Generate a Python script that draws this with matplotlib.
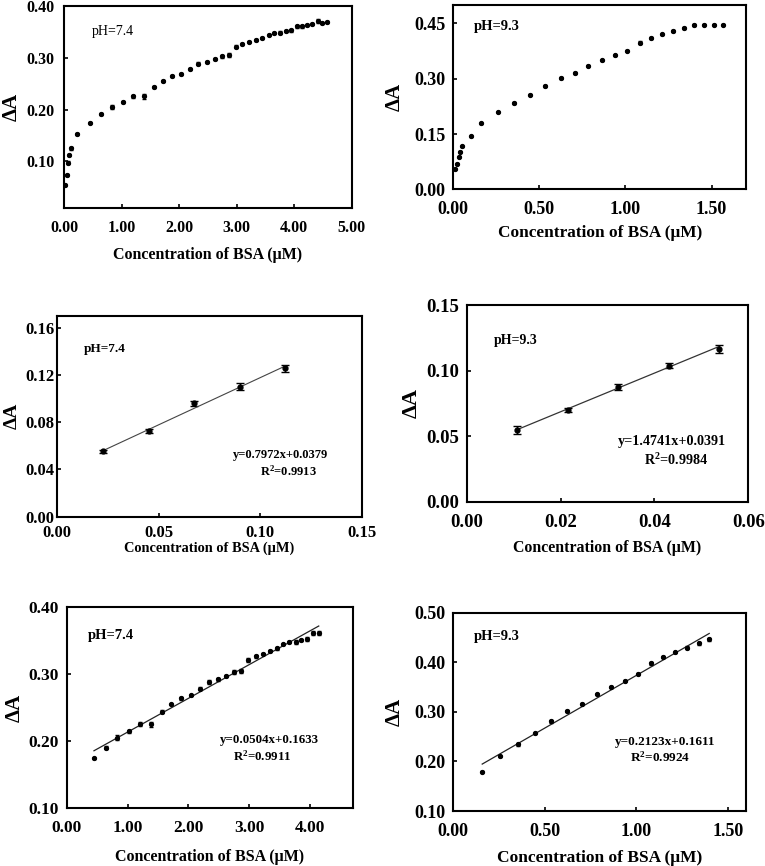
import matplotlib
matplotlib.use("Agg")
import matplotlib.pyplot as plt
import numpy as np

plt.rcParams['font.family'] = ['Liberation Serif', 'DejaVu Serif']
plt.rcParams['font.weight'] = 'bold'
plt.rcParams['mathtext.fontset'] = 'custom'
plt.rcParams['mathtext.rm'] = 'Liberation Serif:bold'
plt.rcParams['mathtext.it'] = 'Liberation Serif:bold'
plt.rcParams['mathtext.bf'] = 'Liberation Serif:bold'

# ---------------- data ----------------
# pH 7.4 full titration curve
x74 = [0.023, 0.046, 0.075, 0.093, 0.116, 0.22,
       0.448, 0.645, 0.831, 1.022, 1.208, 1.388, 1.563, 1.721, 1.885, 2.038,
       2.191, 2.339, 2.486, 2.623, 2.743, 2.863, 2.984, 3.104, 3.224, 3.339,
       3.448, 3.557, 3.656, 3.760, 3.858, 3.956, 4.044, 4.142,
       4.23, 4.32, 4.41, 4.49, 4.58]
y74 = [0.055, 0.073, 0.097, 0.112, 0.125, 0.152,
       0.1746, 0.1906, 0.2055, 0.215, 0.2254, 0.2254, 0.2443, 0.2552, 0.2642, 0.2687,
       0.2786, 0.2886, 0.2925, 0.2975, 0.303, 0.3055, 0.321, 0.327, 0.331, 0.335,
       0.339, 0.3448, 0.348, 0.348, 0.351, 0.353, 0.361, 0.361,
       0.363, 0.366, 0.371, 0.368, 0.369]
e74 = [0.002, 0.002, 0.003, 0.002, 0.003, 0.002,
       0.001, 0.002, 0.004, 0.002, 0.003, 0.004, 0.002, 0.001, 0.002, 0.001,
       0.002, 0.003, 0.002, 0.002, 0.003, 0.003, 0.003, 0.002, 0.001, 0.002,
       0.002, 0.001, 0.002, 0.003, 0.002, 0.003, 0.003, 0.003,
       0.002, 0.002, 0.004, 0.002, 0.002]

# pH 9.3 full titration curve
x93 = [0.008, 0.019, 0.031, 0.041, 0.052, 0.101,
       0.158, 0.257, 0.353, 0.446, 0.534, 0.623, 0.705, 0.784, 0.861, 0.937,
       1.007, 1.082, 1.149, 1.212, 1.277, 1.341, 1.399,
       1.455, 1.512, 1.568]
y93 = [0.055, 0.069, 0.088, 0.102, 0.117, 0.144,
       0.179, 0.210, 0.235, 0.257, 0.281, 0.302, 0.316, 0.335, 0.350, 0.363,
       0.376, 0.398, 0.410, 0.420, 0.429, 0.438, 0.446,
       0.447, 0.447, 0.447]
e93 = [0.001, 0.001, 0.001, 0.001, 0.001, 0.001,
       0.001, 0.001, 0.003, 0.001, 0.003, 0.002, 0.002, 0.001, 0.002, 0.001,
       0.002, 0.003, 0.002, 0.001, 0.003, 0.003, 0.003,
       0.001, 0.001, 0.001]

# low-concentration linear ranges
xlow74 = [0.0226, 0.0453, 0.0674, 0.0898, 0.1122]
ylow74 = [0.0554, 0.0722, 0.0960, 0.1100, 0.1256]
elow74 = [0.0012, 0.0018, 0.0022, 0.0030, 0.0030]

xlow93 = [0.01075, 0.0216, 0.0322, 0.0431, 0.0537]
ylow93 = [0.0549, 0.0702, 0.0875, 0.1037, 0.1167]
elow93 = [0.0030, 0.0015, 0.0025, 0.0020, 0.0030]

# regression equations (slope, intercept, R2)
fit_low74 = (0.7972, 0.0379, 0.9913)
fit_low93 = (1.4741, 0.0391, 0.9984)
fit_hi74 = (0.0504, 0.1633, 0.9911)
fit_hi93 = (0.2123, 0.1611, 0.9924)

# index range of the high linear ranges within the full curves
hi74 = slice(6, 34)
hi93 = slice(6, 23)

# ---------------- figure ----------------
W, H = 765, 866
fig = plt.figure(figsize=(W / 100, H / 100), dpi=100)


def add_ax(l, r, t, b):
    ax = fig.add_axes([l / W, 1 - b / H, (r - l) / W, (b - t) / H])
    ax._px = (l, r, t, b)
    return ax


def style(ax, xlim, ylim, xt, yt, tsize, lsize, xlab_y, ylab_x,
          xpad=8.5, ypad=5.5, ysize=15):
    l, r, t, b = ax._px
    ax.set_xlim(*xlim)
    ax.set_ylim(*ylim)
    ax.set_xticks(xt)
    ax.set_yticks(yt)
    ax.xaxis.set_major_formatter(matplotlib.ticker.FormatStrFormatter('%.2f'))
    ax.yaxis.set_major_formatter(matplotlib.ticker.FormatStrFormatter('%.2f'))
    ax.tick_params(direction='in', length=3, width=1.2, labelsize=tsize,
                   top=False, right=False)
    ax.tick_params(axis='x', pad=xpad)
    ax.tick_params(axis='y', pad=ypad)
    for lab in ax.get_xticklabels() + ax.get_yticklabels():
        lab.set_fontweight('bold')
    for s in ax.spines.values():
        s.set_linewidth(1.5)
    ax.set_xlabel('Concentration of BSA (\u03bcM)', fontsize=lsize,
                  fontweight='bold')
    ax.set_ylabel('\u0394A', fontsize=ysize, fontweight='bold')
    ax.xaxis.label.set_va('center')
    ax.yaxis.label.set_va('center')
    ax.yaxis.label.set_rotation_mode('default')
    ax.xaxis.set_label_coords(0.5, (b - xlab_y) / (b - t))
    ax.yaxis.set_label_coords((ylab_x - l) / (r - l), 0.5)


def r2txt(v):
    return 'R$^{2}$' + f'={v:.4f}'


# Panel 1: pH 7.4 full
ax1 = add_ax(64, 351.5, 6, 208)
ax1.errorbar(x74, y74, yerr=e74, fmt='o', ms=2.8, color='black',
             elinewidth=0.8, capsize=1.2)
style(ax1, (0, 5.0), (0.01, 0.40), [0, 1, 2, 3, 4, 5],
      [0.10, 0.20, 0.30, 0.40], 11.5, 11.5, 255, 12, ypad=7)
ax1.text(0.49, 0.35, 'pH=7.4', fontsize=10, fontweight='normal', va='center')

# Panel 2: pH 9.3 full
ax2 = add_ax(453.3, 746, 5, 189.3)
ax2.errorbar(x93, y93, yerr=e93, fmt='o', ms=2.8, color='black',
             elinewidth=0.8, capsize=1.2)
style(ax2, (0, 1.70), (0, 0.50), [0, 0.5, 1.0, 1.5],
      [0, 0.15, 0.30, 0.45], 13, 12.4, 233, 395)
ax2.text(0.122, 0.443, 'pH=9.3', fontsize=10.5, fontweight='bold', va='center')

# Panel 3: pH 7.4 low range
ax3 = add_ax(57.3, 361.7, 315.7, 516.7)
ax3.errorbar(xlow74, ylow74, yerr=elow74, fmt='o', ms=3.5, color='black',
             elinewidth=1.0, capsize=3)
s, b, r2 = fit_low74
xf = np.array([xlow74[0], xlow74[-1]])
ax3.plot(xf, s * xf + b, color='#444444', lw=0.8)
style(ax3, (0, 0.15), (0, 0.17), [0, 0.05, 0.10, 0.15],
      [0, 0.04, 0.08, 0.12, 0.16], 12, 10.4, 548, 12, xpad=6, ypad=2,
      ysize=14)
ax3.text(0.0129, 0.1415, 'pH=7.4', fontsize=9.5, fontweight='bold', va='center')
ax3.text(0.0864, 0.0526, f'y={s:.4f}x+{b:.4f}', fontsize=9,
         fontweight='bold', va='center')
ax3.text(0.0997, 0.0384, r2txt(r2), fontsize=9,
         fontweight='bold', va='center')

# Panel 4: pH 9.3 low range
ax4 = add_ax(466.7, 748.3, 305, 501.7)
ax4.errorbar(xlow93, ylow93, yerr=elow93, fmt='o', ms=3.5, color='black',
             elinewidth=1.0, capsize=3)
s, b, r2 = fit_low93
xf = np.array([xlow93[0], xlow93[-1]])
ax4.plot(xf, s * xf + b, color='#333333', lw=0.9)
style(ax4, (0, 0.06), (0, 0.15), [0, 0.02, 0.04, 0.06],
      [0, 0.05, 0.10, 0.15], 13.5, 11.4, 548, 412, ysize=16)
ax4.text(0.0057, 0.1226, 'pH=9.3', fontsize=10, fontweight='bold', va='center')
ax4.text(0.0322, 0.0458, f'y={s:.4f}x+{b:.4f}', fontsize=10.2,
         fontweight='bold', va='center')
ax4.text(0.0377, 0.0318, r2txt(r2), fontsize=10.2,
         fontweight='bold', va='center')

# Panel 5: pH 7.4 high range
ax5 = add_ax(66.7, 352.7, 607.3, 808.3)
ax5.errorbar(x74[hi74], y74[hi74], yerr=e74[hi74], fmt='o', ms=2.8,
             color='black', elinewidth=0.8, capsize=1.2)
s, b, r2 = fit_hi74
xf = np.array([x74[hi74][0], x74[hi74][-1]])
ax5.plot(xf, s * xf + b, color='#222222', lw=0.9)
style(ax5, (0, 4.7), (0.10, 0.40), [0, 1, 2, 3, 4],
      [0.10, 0.20, 0.30, 0.40], 12.5, 11.5, 857, 15)
ax5.text(0.355, 0.358, 'pH=7.4', fontsize=10.5, fontweight='bold', va='center')
ax5.text(2.51, 0.202, f'y={s:.4f}x+{b:.4f}', fontsize=9.3,
         fontweight='bold', va='center')
ax5.text(2.73, 0.177, r2txt(r2), fontsize=9.3,
         fontweight='bold', va='center')

# Panel 6: pH 9.3 high range
ax6 = add_ax(453.3, 746, 612.7, 811)
ax6.errorbar(x93[hi93], y93[hi93], yerr=e93[hi93], fmt='o', ms=2.8,
             color='black', elinewidth=0.8, capsize=1.2)
s, b, r2 = fit_hi93
xf = np.array([x93[hi93][0], x93[hi93][-1]])
ax6.plot(xf, s * xf + b, color='#222222', lw=0.9)
style(ax6, (0, 1.6), (0.10, 0.50), [0, 0.5, 1.0, 1.5],
      [0.10, 0.20, 0.30, 0.40, 0.50], 13, 12.5, 858, 395)
ax6.text(0.112, 0.4515, 'pH=9.3', fontsize=10.5, fontweight='bold', va='center')
ax6.text(0.882, 0.240, f'y={s:.4f}x+{b:.4f}', fontsize=9.5,
         fontweight='bold', va='center')
ax6.text(0.964, 0.208, r2txt(r2), fontsize=9.5,
         fontweight='bold', va='center')

fig.savefig('out.png', dpi=100)
